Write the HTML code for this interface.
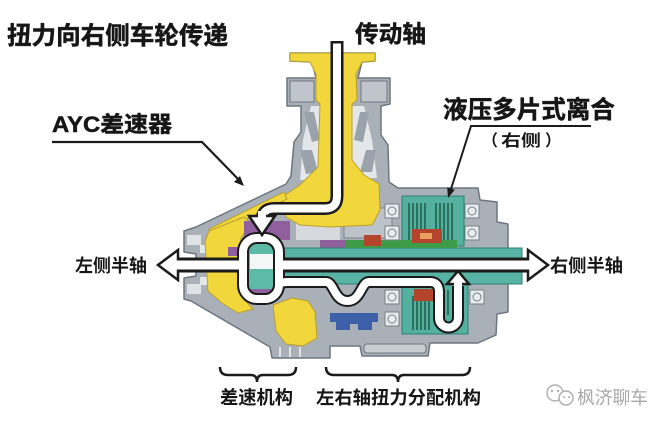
<!DOCTYPE html>
<html><head><meta charset="utf-8">
<style>
html,body{margin:0;padding:0;background:#fff;}
svg{display:block;}
text{font-family:"Liberation Sans","Noto Sans CJK SC","WenQuanYi Zen Hei",sans-serif;font-weight:bold;fill:#161616;}
.t{stroke:#161616;stroke-width:0.5;}
</style></head><body>
<svg width="658" height="430" viewBox="0 0 658 430" xmlns="http://www.w3.org/2000/svg">
<rect width="658" height="430" fill="#ffffff"/>

<!-- machine silhouette -->
<polygon fill="#a9b0b8" stroke="#6d7680" stroke-width="1.5" stroke-linejoin="round" points="290,53 375,53 375,61 362,62 358,78 390,78 390,104 381,106 381,135 388,145 389,182 398,188 478,188 480,200 497,202 497,222 508,224 508,248 500,250 500,282 508,284 508,312 497,314 496,335 478,343 430,343 428,356 362,356 360,346 330,346 330,358 272,358 270,347 191,301 184,299 184,278 196,276 196,254 184,252 184,231 196,227 286,184 291,176 294,142 301,132 301,106 287,106 287,78 316,78 312,62 290,61"/>

<!-- light interiors -->
<polygon fill="#e3e7ea" points="311,106 364,106 372,140 377,178 300,180 303,140"/>
<polygon fill="#9aa2ab" points="304,112 314,112 320,140 312,142"/>
<polygon fill="#9aa2ab" points="360,112 369,112 363,142 354,140"/>
<polygon fill="#9aa2ab" points="300,150 312,150 318,172 306,174"/>
<polygon fill="#9aa2ab" points="366,150 376,150 372,172 360,172"/>
<rect x="290" y="81" width="24" height="21" fill="#bfc5cb" stroke="#6d7680"/>
<rect x="361" y="81" width="26" height="21" fill="#bfc5cb" stroke="#6d7680"/>
<rect x="296" y="222" width="44" height="18" fill="#d6dadf"/>
<rect x="344" y="208" width="48" height="30" fill="#bcc3c9" stroke="#7a838c"/>
<rect x="187" y="235" width="14" height="10" fill="#dfe3e6"/>
<rect x="187" y="284" width="14" height="10" fill="#dfe3e6"/>
<rect x="200" y="245" width="8" height="8" fill="#e4e7ea"/>
<rect x="200" y="277" width="8" height="8" fill="#e4e7ea"/>

<!-- yellow parts -->
<g fill="#f2d73c" stroke="#b9a02e" stroke-width="1">
<polygon points="290,53 375,53 375,61 362,62 356,74 357,100 352,104 352,160 364,175 379,184 380,210 372,225 330,227 300,225 286,217 282,197 300,185 318,167 320,104 316,100 316,74 310,62 290,61"/>
<polygon points="284,192 287,199 214,235 209,229"/>
<polygon points="209,231 244,217 251,223 241,238 241,296 253,309 238,313 222,303 208,291 205,242"/>
<polygon points="273,305 292,298 308,301 315,312 317,338 303,346 286,344 276,331"/>
</g>

<!-- purple -->
<g fill="#8f5f9e">
<rect x="244" y="221" width="46" height="19"/>
<rect x="250" y="283" width="24" height="11"/>
<rect x="320" y="240" width="26" height="9"/>
<rect x="228" y="247" width="12" height="9"/>
</g>

<!-- teal -->
<rect x="279" y="248" width="243" height="36" fill="#57b4a5" stroke="#2f7f72"/>
<rect x="249" y="242" width="25" height="47" fill="#5cbaa9"/>
<rect x="250" y="254" width="23" height="15" fill="#f4f7f6"/>
<rect x="402" y="196" width="62" height="50" fill="#54b09f" stroke="#2f7f72"/>
<rect x="402" y="284" width="66" height="50" fill="#54b09f" stroke="#2f7f72"/>
<g stroke="#24614f" stroke-width="1.6">
<path d="M409 203V240M413 203V240M417 203V240M421 203V240M425 203V240"/>
<path d="M436 203V240M440 203V240M444 203V240M448 203V240M452 203V240"/>
<path d="M413 296V330M417 296V330M421 296V330M425 296V330M429 296V330"/>
<path d="M448 290V315"/>
</g>

<!-- green / red / blue -->
<rect x="345" y="240" width="112" height="8" fill="#3e9c48"/>
<rect x="364" y="235" width="17" height="11" fill="#b4452c"/>
<rect x="412" y="229" width="30" height="14" fill="#b4452c"/>
<rect x="420" y="233" width="12" height="6" fill="#e9a25c"/>
<rect x="414" y="289" width="19" height="12" fill="#b4452c"/>
<polygon fill="#3d60a8" points="330,313 378,313 378,322 372,322 372,330 358,330 358,324 350,324 350,330 336,330 336,322 330,322"/>

<!-- bearings -->
<g fill="#e8ecee" stroke="#777f88" stroke-width="1">
<rect x="385" y="204" width="14" height="14"/><circle cx="392" cy="211" r="4" fill="none"/>
<rect x="385" y="226" width="14" height="14"/><circle cx="392" cy="233" r="4" fill="none"/>
<rect x="465" y="204" width="14" height="14"/><circle cx="472" cy="211" r="4" fill="none"/>
<rect x="465" y="226" width="14" height="14"/><circle cx="472" cy="233" r="4" fill="none"/>
<rect x="385" y="290" width="14" height="14"/><circle cx="392" cy="297" r="4" fill="none"/>
<rect x="385" y="312" width="14" height="14"/><circle cx="392" cy="319" r="4" fill="none"/>
<rect x="470" y="290" width="14" height="14"/><circle cx="477" cy="297" r="4" fill="none"/>
</g>
<rect x="364" y="344" width="62" height="9" rx="3" fill="#c8cdd2" stroke="#6d7680"/>
<path d="M280 347V357M290 347V357M300 347V357" stroke="#e0e4e7" stroke-width="2"/>

<!-- power flow: black outline layer -->
<g fill="none" stroke="#1b1b1b" stroke-linejoin="round">
<path d="M337 41 V196 Q337 208.5 325 208.5 H274 Q262 208.5 262 221 V226" stroke-width="13"/>
<rect x="243" y="238" width="36" height="61" rx="14" stroke-width="12"/>
<path d="M178 265 H243" stroke-width="15"/>
<path d="M279 265 H529" stroke-width="15"/>
<path d="M279 286 Q279 282 288 282 H326 C334 282 334 301 347.5 301 C361 301 361 282 369 282 H430 Q439 282 439 292 V318 A9.5 9.5 0 0 0 458 318 V286" stroke-width="12"/>
</g>
<!-- white layer -->
<g fill="none" stroke="#ffffff" stroke-linejoin="round">
<path d="M337 43.5 V196 Q337 208.5 325 208.5 H274 Q262 208.5 262 221 V226" stroke-width="8"/>
<rect x="243" y="238" width="36" height="61" rx="14" stroke-width="8"/>
<path d="M178 265 H243" stroke-width="9"/>
<path d="M279 265 H529" stroke-width="9"/>
<path d="M279 286 Q279 282 288 282 H326 C334 282 334 301 347.5 301 C361 301 361 282 369 282 H430 Q439 282 439 292 V318 A9.5 9.5 0 0 0 458 318 V286" stroke-width="8"/>
</g>
<!-- arrowheads -->
<g fill="#ffffff" stroke="#1b1b1b" stroke-width="2.5" stroke-linejoin="miter">
<polygon points="249,216 275,216 262,235"/>
<polygon points="178,250 158,265 178,280"/>
<polygon points="528,250 548,265 528,280"/>
<polygon points="447,284 469,284 458,271"/>
</g>
<g stroke="#ffffff" fill="none">
<path d="M262 211 V220" stroke-width="8"/>
<path d="M175 265 H183" stroke-width="9"/>
<path d="M524 265 H532" stroke-width="9"/>
<path d="M458 281 V289" stroke-width="8"/>
</g>

<!-- leader lines -->
<polyline points="52,142 202,142 239,180" fill="none" stroke="#1b1b1b" stroke-width="2.2"/>
<polygon points="244,186 234,182 240,176" fill="#1b1b1b"/>
<polyline points="591,126 471,126 451,189" fill="none" stroke="#1b1b1b" stroke-width="2"/>
<polygon points="448,198 454.8,189.7 447.2,187.3" fill="#1b1b1b"/>

<!-- braces -->
<g fill="none" stroke="#1b1b1b" stroke-width="2.5">
<path d="M220 367 Q220 375 228 375 H251 Q257 375 257 382 Q257 375 263 375 H288 Q296 375 296 367"/>
<path d="M326 367 Q326 375 334 375 H392 Q398 375 398 382 Q398 375 404 375 H462 Q470 375 470 367"/>
</g>

<!-- labels -->
<text class="t" x="7" y="44" font-size="24.5" textLength="221" lengthAdjust="spacingAndGlyphs">扭力向右侧车轮传递</text>
<text class="t" x="52" y="132" font-size="22" textLength="120" lengthAdjust="spacingAndGlyphs">AYC差速器</text>
<text class="t" x="355" y="42" font-size="23.5" textLength="71" lengthAdjust="spacingAndGlyphs">传动轴</text>
<text class="t" x="443" y="118" font-size="24.5" textLength="172" lengthAdjust="spacingAndGlyphs">液压多片式离合</text>
<text font-size="16"><tspan x="482" y="146">（</tspan><tspan x="501" y="146" textLength="40" lengthAdjust="spacingAndGlyphs">右侧</tspan><tspan x="545" y="146">）</tspan></text>
<text x="75" y="272" font-size="18" textLength="72" lengthAdjust="spacingAndGlyphs">左侧半轴</text>
<text x="550" y="272" font-size="18" textLength="73" lengthAdjust="spacingAndGlyphs">右侧半轴</text>
<text x="220" y="404" font-size="18.5" textLength="73" lengthAdjust="spacingAndGlyphs">差速机构</text>
<text x="316" y="404" font-size="18.3" textLength="165" lengthAdjust="spacingAndGlyphs">左右轴扭力分配机构</text>

<!-- watermark -->
<circle cx="555" cy="393" r="8" fill="#fff" stroke="#b0b0b0" stroke-width="1.5"/>
<circle cx="566" cy="398" r="7" fill="#fff" stroke="#b0b0b0" stroke-width="1.5"/>
<circle cx="552" cy="391" r="1.2" fill="#b0b0b0"/><circle cx="558" cy="391" r="1.2" fill="#b0b0b0"/>
<circle cx="564" cy="397" r="1" fill="#b0b0b0"/><circle cx="569" cy="397" r="1" fill="#b0b0b0"/>
<text x="577" y="404" font-size="18" textLength="71" lengthAdjust="spacingAndGlyphs" style="fill:#a8a8a8;font-weight:normal">枫济聊车</text>
</svg>
</body></html>
